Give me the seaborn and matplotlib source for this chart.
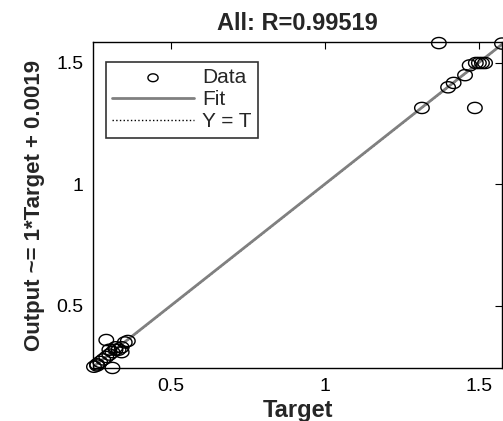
import numpy as np
import pandas as pd
import seaborn as sns
import matplotlib.pyplot as plt

# data
target = [0.25, 0.26, 0.27, 0.28, 0.29, 0.30, 0.31, 0.32, 0.33, 0.34, 0.35, 0.36,
          0.29, 0.31, 0.30, 0.32, 0.34, 0.26,
          1.315, 1.40, 1.418, 1.455, 1.47, 1.49, 1.50, 1.51, 1.52, 1.37, 1.487, 1.575]
output = [0.25, 0.255, 0.27, 0.28, 0.29, 0.30, 0.31, 0.32, 0.32, 0.33, 0.35, 0.356,
          0.36, 0.245, 0.32, 0.33, 0.31, 0.26,
          1.315, 1.40, 1.418, 1.45, 1.49, 1.50, 1.50, 1.50, 1.50, 1.582, 1.315, 1.58]
slope = 1.0
intercept = 0.0019
r_value = 0.99519

df = pd.DataFrame({'Target': target, 'Output': output})

sns.set_style('white')
plt.rcParams['font.family'] = ['Liberation Sans', 'DejaVu Sans']

fig = plt.figure(figsize=(5.03, 4.21), dpi=100)
ax = fig.add_axes([0.185, 0.126, 0.813, 0.774])

xlim = (0.247, 1.575)
ylim = (0.245, 1.586)

# slightly flattened circle, like the stretched original
t = np.linspace(0, 2 * np.pi, 40)
ellipse = np.column_stack([1.3 * np.cos(t), np.sin(t)])

# Y = T reference line
ax.plot(xlim, xlim, color='black', linestyle=':', linewidth=1, label='Y = T')

# fit line
fit_x = np.array([min(target), max(target)])
fit_y = slope * fit_x + intercept
sns.lineplot(x=fit_x, y=fit_y, color='#808080', linewidth=2, label='Fit', ax=ax)

sns.scatterplot(data=df, x='Target', y='Output', marker=ellipse, s=110,
                facecolor='none', edgecolor='black', linewidth=1,
                label='Data', ax=ax, clip_on=False, zorder=3)

ax.set_xlim(xlim)
ax.set_ylim(ylim)
ax.set_xticks([0.5, 1, 1.5])
ax.set_yticks([0.5, 1, 1.5])
ax.set_xticklabels(['0.5', '1', '1.5'])
ax.set_yticklabels(['0.5', '1', '1.5'])
ax.tick_params(direction='in', top=True, right=True, length=5, labelsize=14,
               colors='black', pad=7)
for s in ax.spines.values():
    s.set_color('black')
    s.set_linewidth(1)

ax.set_title(f'All: R={r_value}', fontsize=17, fontweight='bold', pad=9)
ax.set_xlabel('Target', fontsize=17, fontweight='bold', labelpad=3)
ax.set_ylabel(f'Output ~= {slope:g}*Target + {intercept}', fontsize=16,
              fontweight='bold', labelpad=8)

handles, labels = ax.get_legend_handles_labels()
order = [labels.index('Data'), labels.index('Fit'), labels.index('Y = T')]
leg = ax.legend([handles[i] for i in order], [labels[i] for i in order],
                loc='upper left', bbox_to_anchor=(0.032, 0.939),
                fontsize=15, frameon=True, fancybox=False,
                edgecolor='black', borderaxespad=0, borderpad=0.3,
                handlelength=3.9, handletextpad=0.4, labelspacing=0.15,
                markerscale=0.7)
leg.get_frame().set_linewidth(1.2)

fig.savefig('out.png', dpi=100)
